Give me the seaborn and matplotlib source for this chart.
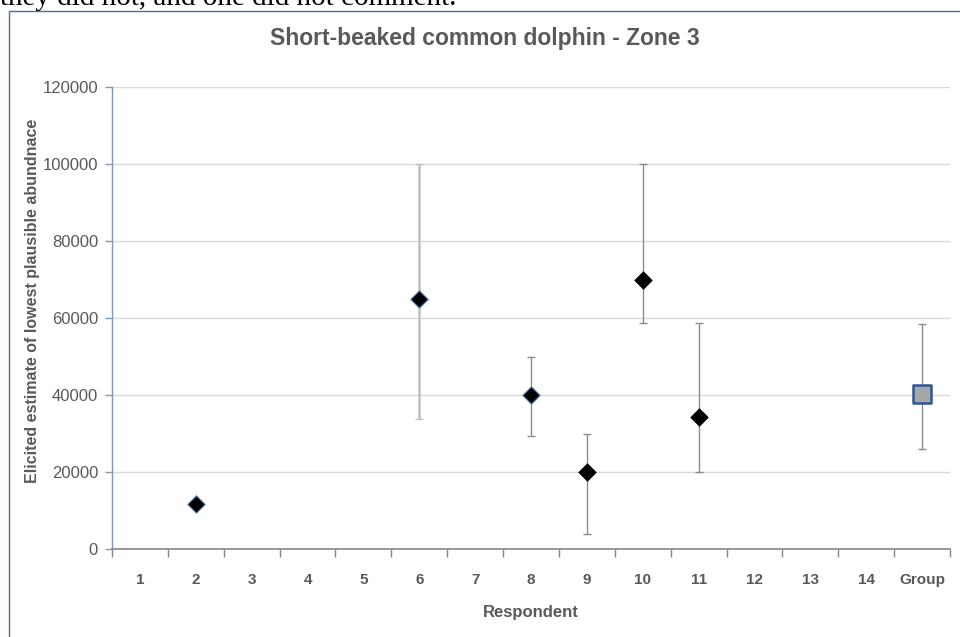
import numpy as np
import pandas as pd
import matplotlib
matplotlib.use("Agg")
import matplotlib.pyplot as plt
import matplotlib.patches as mpatches
import seaborn as sns

categories = ["1", "2", "3", "4", "5", "6", "7", "8", "9", "10", "11", "12", "13", "14", "Group"]
# respondent estimates (NaN = no answer)
estimate = [np.nan, 11600, np.nan, np.nan, np.nan, 65000, np.nan, 40000, 20000, 70000, 34400, np.nan, np.nan, np.nan, 40300]
lower = [np.nan, np.nan, np.nan, np.nan, np.nan, 33800, np.nan, 29400, 4000, 58600, 20000, np.nan, np.nan, np.nan, 26000]
upper = [np.nan, np.nan, np.nan, np.nan, np.nan, 100000, np.nan, 50000, 30000, 100000, 58600, np.nan, np.nan, np.nan, 58500]
y_ticks = [0, 20000, 40000, 60000, 80000, 100000, 120000]

sns.set_theme(style="white")
plt.rcParams["font.family"] = ["Liberation Sans", "DejaVu Sans"]

gray_txt = "#595959"
fig = plt.figure(figsize=(9.6, 6.37), dpi=100)
ax = fig.add_axes([112 / 960, 1 - 549 / 637, (950 - 112) / 960, (549 - 87) / 637])

df = pd.DataFrame({"cat": categories, "pos": np.arange(len(categories)),
                   "est": estimate, "lo": lower, "hi": upper})

# horizontal gridlines
ax.set_axisbelow(True)
ax.yaxis.grid(True, color="#d9d9d9", linewidth=1)

# error bars
eb = df.dropna(subset=["lo"])
for _, r in eb.iterrows():
    col = "#c0c0c0" if r["cat"] == "6" else "#8c8c8c"
    lw = 1.8 if r["cat"] == "6" else 1.0
    ax.errorbar(r["pos"], r["est"], yerr=[[r["est"] - r["lo"]], [r["hi"] - r["est"]]],
                fmt="none", ecolor=col, elinewidth=lw, capsize=3, capthick=1.0, zorder=2)

# respondents: diamonds
resp = df[(df["cat"] != "Group") & df["est"].notna()]
edge_blue = resp["cat"].isin(["2", "6", "8"])
sns.scatterplot(data=resp[edge_blue], x="pos", y="est", marker="D", s=80, color="black",
                edgecolor="#5b8fd0", linewidth=0.8, ax=ax, zorder=3, legend=False)
sns.scatterplot(data=resp[~edge_blue], x="pos", y="est", marker="D", s=80, color="black",
                edgecolor="black", linewidth=0.5, ax=ax, zorder=3, legend=False)
grp = df[df["cat"] == "Group"]
sns.scatterplot(data=grp, x="pos", y="est", marker="s", s=180, color="#a6a6a6",
                edgecolor="#2f5597", linewidth=1.8, ax=ax, zorder=3, legend=False)

ax.set_xlim(-0.5, len(categories) - 0.5)
ax.set_ylim(0, 120000)
ax.set_yticks(y_ticks)
ax.set_yticklabels([str(v) for v in y_ticks], color=gray_txt, fontsize=12)
ax.set_xticks(np.arange(len(categories)))
ax.set_xticklabels(categories, color=gray_txt, fontsize=11, fontweight="bold")
ax.set_xticks(np.arange(len(categories) + 1) - 0.5, minor=True)
ax.tick_params(axis="x", which="major", length=0, pad=17)
ax.tick_params(axis="x", which="minor", length=6, width=1, color="#868686", direction="out", bottom=True)
ax.tick_params(axis="y", which="major", length=5, width=1, color="#8497b0", direction="out", left=True, pad=5)

for s in ["top", "right"]:
    ax.spines[s].set_visible(False)
ax.spines["left"].set_color("#8497b0")
ax.spines["left"].set_linewidth(1)
ax.spines["bottom"].set_color("#868686")
ax.spines["bottom"].set_linewidth(1.2)

ax.set_xlabel("Respondent", color=gray_txt, fontsize=12, fontweight="bold")
ax.xaxis.set_label_coords(0.5, -(612 - 549) / 462, transform=ax.transAxes)
ax.xaxis.label.set_va("center")
ax.set_ylabel("Elicited estimate of lowest plausible abundnace", color=gray_txt,
              fontsize=11.5, fontweight="bold")
ax.yaxis.set_label_coords(-(112 - 33) / 838, (549 - 301) / 462, transform=ax.transAxes)
ax.yaxis.label.set_va("center")

fig.text(485 / 960, 1 - 38 / 637, "Short-beaked common dolphin - Zone 3", ha="center",
         va="center", fontsize=16.5, fontweight="bold", color=gray_txt)

# document text cut off at the top and chart frame
fig.text(0.0, 1 - 5 / 637, "they did not, and one did not comment.", ha="left", va="baseline",
         fontsize=21, family=["Liberation Serif", "DejaVu Serif"], color="black")
frame = mpatches.Rectangle((9 / 960, -0.05), 1.1, 1 - 11 / 637 + 0.05, transform=fig.transFigure,
                           fill=False, edgecolor="#4a6fa5", linewidth=1.0, clip_on=False)
fig.patches.append(frame)

fig.savefig("out.png", dpi=100)
